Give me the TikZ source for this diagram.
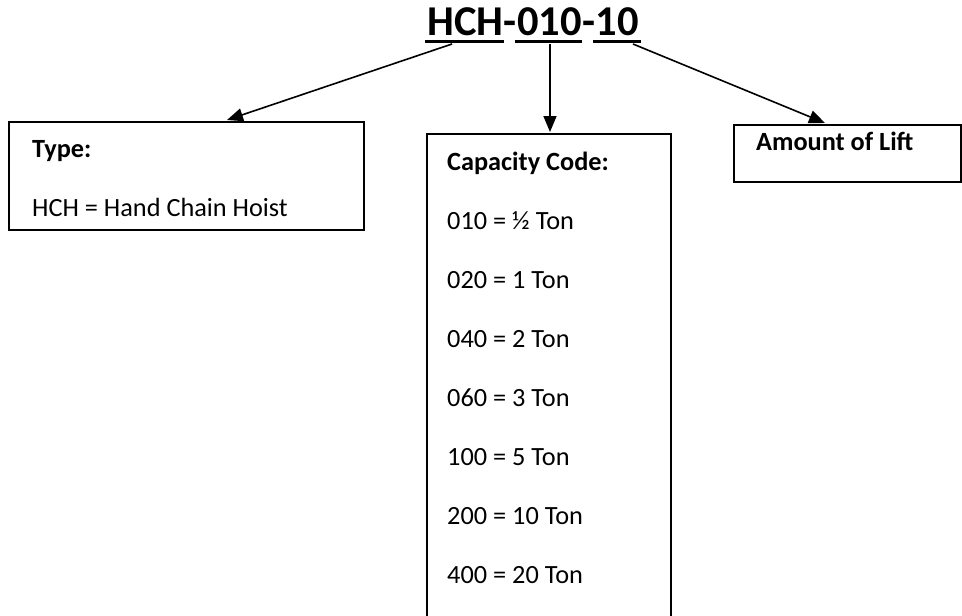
\documentclass[tikz,border=0pt]{standalone}
\usepackage{fontspec}
\setmainfont{Carlito}
\usetikzlibrary{arrows.meta,calc}
\tikzset{
  boxframe/.style={draw=black, line width=2pt, rectangle, inner sep=0pt, anchor=north west},
  txt/.style={anchor=base west, inner sep=0pt, font=\fontsize{26.3}{30}\selectfont},
  btxt/.style={txt, font=\fontsize{26.3}{30}\selectfont\bfseries},
  ttl/.style={anchor=base west, inner sep=0pt, text depth=0pt, font=\fontsize{42.5}{50}\selectfont\bfseries},
  uline/.style={line width=2.7pt},
  arr/.style={line width=1.6pt, -{Triangle[length=16pt,width=13pt]}},
}
\begin{document}
\begin{tikzpicture}[x=1pt,y=-1pt]
\useasboundingbox (0,0) rectangle (962,616);
% title
\node[ttl] (t1) at (427,35) {HCH};
\node[ttl] (d1) at (t1.base east) {-};
\node[ttl] (t2) at (d1.base east) {010};
\node[ttl] (d2) at (t2.base east) {-};
\node[ttl] (t3) at (d2.base east) {10};
\draw[uline] ([xshift=-2pt,yshift=-6.5pt]t1.south west) -- ([yshift=-6.5pt]t1.south east);
\draw[uline] ([xshift=-2pt,yshift=-6.5pt]t2.south west) -- ([yshift=-6.5pt]t2.south east);
\draw[uline] ([xshift=-2pt,yshift=-6.5pt]t3.south west) -- ([xshift=2pt,yshift=-6.5pt]t3.south east);
% boxes
\node[boxframe, minimum width=355pt, minimum height=108pt] (typebox) at (8,121) {};
\node[boxframe, minimum width=244pt, minimum height=520pt] (capbox) at (426,133) {};
\node[boxframe, minimum width=227pt, minimum height=57pt] (liftbox) at (733,124) {};
% texts
\node[btxt] (typeh) at (32,157) {Type:};
\node[txt] (typel) at (32,216) {HCH = Hand Chain Hoist};
\node[btxt] (caph) at (447,170) {Capacity Code:};
\node[txt] (c1) at (447,229) {010 = ½ Ton};
\node[txt] (c2) at (447,288) {020 = 1 Ton};
\node[txt] (c3) at (447,347) {040 = 2 Ton};
\node[txt] (c4) at (447,406) {060 = 3 Ton};
\node[txt] (c5) at (447,465) {100 = 5 Ton};
\node[txt] (c6) at (447,524) {200 = 10 Ton};
\node[txt] (c7) at (447,583) {400 = 20 Ton};
\node[btxt] (lifth) at (756,150) {Amount of Lift};
% connectors
\coordinate (s1) at (452,44);
\coordinate (s2) at (550,44);
\coordinate (s3) at (633,44);
\coordinate (e1) at (227,120);
\coordinate (e2) at (550,132);
\coordinate (e3) at (825,123);
\draw[arr] (s1) -- (e1);
\draw[arr] (s2) -- (e2);
\draw[arr] (s3) -- (e3);
\end{tikzpicture}
\end{document}
